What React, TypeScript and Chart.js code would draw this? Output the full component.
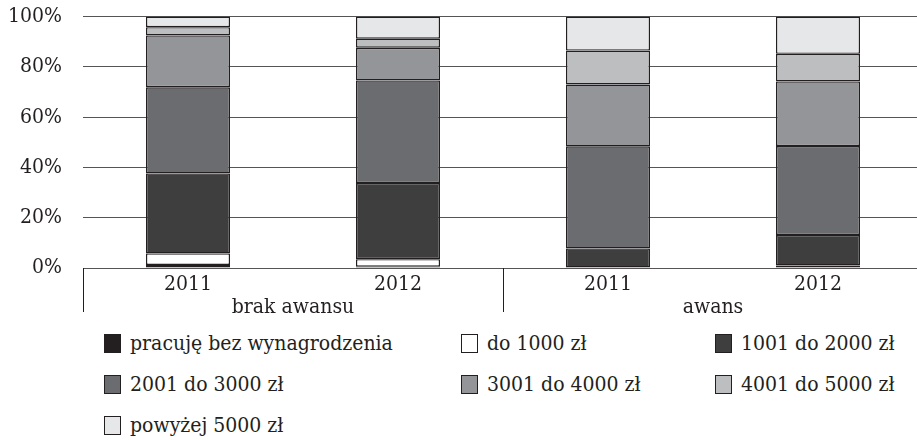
import React, { useEffect, useRef } from "react";
import { Chart, registerables } from "chart.js";

Chart.register(...registerables);

const categories = ["2011", "2012", "2011", "2012"];
const groups = ["brak awansu", "awans"];
const seriesNames = [
  "pracuję bez wynagrodzenia",
  "do 1000 zł",
  "1001 do 2000 zł",
  "2001 do 3000 zł",
  "3001 do 4000 zł",
  "4001 do 5000 zł",
  "powyżej 5000 zł",
];
const bezWynagrodzenia = [1.2, 0.5, 0, 1.0];
const do1000 = [4.6, 3.0, 0, 0];
const od1001do2000 = [31.8, 30.3, 7.8, 12.1];
const od2001do3000 = [34.3, 40.8, 40.6, 35.4];
const od3001do4000 = [20.6, 13.0, 24.6, 25.7];
const od4001do5000 = [3.3, 3.6, 13.5, 11.0];
const powyzej5000 = [4.2, 8.8, 13.5, 14.8];
const yTicks = [0, 20, 40, 60, 80, 100];

const seriesValues = [
  bezWynagrodzenia,
  do1000,
  od1001do2000,
  od2001do3000,
  od3001do4000,
  od4001do5000,
  powyzej5000,
];
const colors = ["#231f20", "#ffffff", "#3e3e3f", "#6b6c6f", "#939598", "#bcbec0", "#e6e7e8"];

const FONT = "'DejaVu Serif Condensed', 'DejaVu Serif', serif";
const TEXT = "#231f20";
const OFFSET = 17;

const groupPlugin = {
  id: "groupPlugin",
  afterDraw(chart: any) {
    const { ctx, chartArea } = chart;
    const x = chart.scales.x;
    const bottom = chartArea.bottom;
    ctx.save();
    ctx.strokeStyle = "#231f20";
    ctx.lineWidth = 1;
    const p0 = x.getPixelForValue(0);
    const p1 = x.getPixelForValue(1);
    const p2 = x.getPixelForValue(2);
    const p3 = x.getPixelForValue(3);
    const lines = [chartArea.left, (p1 + p2) / 2, chartArea.right];
    lines.forEach((lx) => {
      const xx = Math.round(lx) + 0.5;
      ctx.beginPath();
      ctx.moveTo(xx, bottom);
      ctx.lineTo(xx, bottom + 44);
      ctx.stroke();
    });
    ctx.fillStyle = TEXT;
    ctx.font = `21px ${FONT}`;
    ctx.textAlign = "center";
    ctx.textBaseline = "middle";
    ctx.fillText(groups[0], (p0 + p1) / 2, bottom + 40);
    ctx.fillText(groups[1], (p2 + p3) / 2, bottom + 40);
    ctx.restore();
  },
};

export default function App() {
  const ref = useRef<HTMLCanvasElement | null>(null);
  useEffect(() => {
    if (!ref.current) return;
    const chart = new Chart(ref.current, {
      type: "bar",
      data: {
        labels: categories,
        datasets: seriesNames.map((name, i) => ({
          label: name,
          data: seriesValues[i].map((v) => (v === 0 ? null : v)),
          backgroundColor: colors[i],
          borderColor: "#231f20",
          borderWidth: 1.4,
          borderSkipped: false,
          barPercentage: 0.4,
          categoryPercentage: 1,
        })),
      },
      options: {
        animation: false,
        responsive: false,
        maintainAspectRatio: false,
        layout: { padding: { top: 3, left: 0, right: 0, bottom: 0 } },
        plugins: { legend: { display: false }, tooltip: { enabled: false } },
        scales: {
          x: {
            stacked: true,
            grid: { display: false, drawTicks: false },
            border: { display: true, color: "#555555", width: 1 },
            ticks: { color: TEXT, font: { family: FONT, size: 21 }, padding: 4, maxRotation: 0 },
            afterFit(scale: any) {
              scale.height = 52;
            },
          },
          y: {
            stacked: true,
            min: 0,
            max: 100,
            grid: { color: "#555555", lineWidth: 1, drawTicks: false },
            border: { display: false },
            ticks: {
              stepSize: 20,
              padding: 21,
              color: TEXT,
              font: { family: FONT, size: 21 },
              callback: (v: any) => (yTicks.includes(Number(v)) ? `${v}%` : ""),
            },
            afterFit(scale: any) {
              scale.width = 83;
            },
          },
        },
      },
      plugins: [groupPlugin],
    });
    return () => chart.destroy();
  }, []);

  const colX = [104, 461, 715];
  const rowY = [343, 384, 425];

  return (
    <div
      style={{
        position: "fixed",
        left: 0,
        top: 0,
        width: 917,
        height: 440,
        overflow: "hidden",
        background: "#fff",
      }}
    >
      <canvas
        ref={ref}
        width={923}
        height={320 + OFFSET}
        style={{ position: "absolute", left: 0, top: -OFFSET, width: 923, height: 320 + OFFSET }}
      />
      {seriesNames.map((name, i) => (
        <div
          key={name}
          style={{
            position: "absolute",
            left: colX[i % 3],
            top: rowY[Math.floor(i / 3)] - 12,
            height: 24,
            display: "flex",
            alignItems: "center",
            whiteSpace: "nowrap",
            fontFamily: FONT,
            fontSize: 21,
            color: TEXT,
          }}
        >
          <span
            style={{
              display: "inline-block",
              width: 17,
              height: 19,
              boxSizing: "border-box",
              border: "1px solid #231f20",
              background: colors[i],
              marginRight: 9,
            }}
          />
          <span>{name}</span>
        </div>
      ))}
    </div>
  );
}
